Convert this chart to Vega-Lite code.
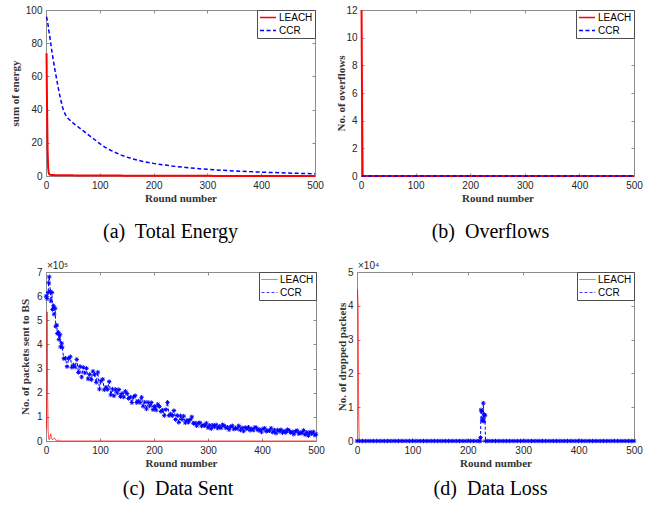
{
 "$schema": "https://vega.github.io/schema/vega-lite/v6.json",
 "padding": {"left": 9, "top": 5, "right": 5, "bottom": 4},
 "background": "white",
 "config": {
  "view": {"stroke": null},
  "axis": {"domainColor": "#8c8c8c", "tickColor": "#8c8c8c", "tickSize": -3, "labelFont": "Liberation Sans", "labelFontSize": 10, "labelColor": "#262626", "titleFont": "Liberation Serif", "titleFontSize": 11, "titleFontWeight": "bold", "titleColor": "#333333", "grid": false, "labelPadding": 7, "labelFlush": false, "labelOverlap": false, "labelBound": false, "domainWidth": 1, "tickWidth": 1},
  "legend": {"orient": "top-right", "offset": 0, "padding": 2, "strokeColor": "#4d4d4d", "fillColor": "white", "labelFont": "Liberation Sans", "labelFontSize": 10, "labelColor": "black", "symbolSize": 256, "symbolStrokeWidth": 1.5, "rowPadding": 2, "labelOffset": 2, "symbolType": "stroke", "clipHeight": 11},
  "title": {"font": "Liberation Serif", "fontSize": 20, "fontWeight": "normal", "color": "black", "orient": "bottom", "anchor": "middle", "frame": "group"}
 },
 "resolve": {"scale": {"color": "independent", "strokeDash": "independent"}, "legend": {"color": "independent", "strokeDash": "independent"}},
 "datasets": {
  "energy": [
   {"r":1,"s":"LEACH","v":74},{"r":2,"s":"LEACH","v":40},{"r":3,"s":"LEACH","v":15},{"r":4,"s":"LEACH","v":5},{"r":5,"s":"LEACH","v":2},{"r":6,"s":"LEACH","v":1.1},{"r":8,"s":"LEACH","v":0.7},{"r":12,"s":"LEACH","v":0.55},{"r":20,"s":"LEACH","v":0.5},{"r":50,"s":"LEACH","v":0.38},{"r":100,"s":"LEACH","v":0.28},{"r":200,"s":"LEACH","v":0.15},{"r":300,"s":"LEACH","v":0.08},{"r":400,"s":"LEACH","v":0.03},{"r":500,"s":"LEACH","v":0},
   {"r":1,"s":"CCR","v":96},{"r":3,"s":"CCR","v":93},{"r":5,"s":"CCR","v":88},{"r":8,"s":"CCR","v":82},{"r":10,"s":"CCR","v":77},{"r":13,"s":"CCR","v":71},{"r":16,"s":"CCR","v":65},{"r":20,"s":"CCR","v":58},{"r":24,"s":"CCR","v":51},{"r":28,"s":"CCR","v":45},{"r":32,"s":"CCR","v":40},{"r":36,"s":"CCR","v":37},{"r":40,"s":"CCR","v":35},{"r":50,"s":"CCR","v":32},{"r":60,"s":"CCR","v":29.5},{"r":70,"s":"CCR","v":27},{"r":80,"s":"CCR","v":24.5},{"r":90,"s":"CCR","v":22},{"r":100,"s":"CCR","v":19.5},{"r":110,"s":"CCR","v":17.3},{"r":120,"s":"CCR","v":15.5},{"r":130,"s":"CCR","v":14},{"r":140,"s":"CCR","v":12.6},{"r":150,"s":"CCR","v":11.4},{"r":160,"s":"CCR","v":10.4},{"r":170,"s":"CCR","v":9.6},{"r":180,"s":"CCR","v":8.8},{"r":200,"s":"CCR","v":7.6},{"r":220,"s":"CCR","v":6.6},{"r":240,"s":"CCR","v":5.8},{"r":260,"s":"CCR","v":5.1},{"r":280,"s":"CCR","v":4.5},{"r":300,"s":"CCR","v":4.0},{"r":330,"s":"CCR","v":3.4},{"r":360,"s":"CCR","v":2.9},{"r":400,"s":"CCR","v":2.3},{"r":450,"s":"CCR","v":1.8},{"r":500,"s":"CCR","v":1.3}
  ],
  "overflow": [
   {"r":1,"s":"LEACH","v":12},{"r":2,"s":"LEACH","v":5},{"r":3,"s":"LEACH","v":0},{"r":500,"s":"LEACH","v":0},
   {"r":1,"s":"CCR","v":0},{"r":500,"s":"CCR","v":0}
  ],
  "sent": [
   {"r":1,"s":"LEACH","v":0.5},{"r":2,"s":"LEACH","v":5.35},{"r":3,"s":"LEACH","v":1.85},{"r":4,"s":"LEACH","v":0.4},{"r":5,"s":"LEACH","v":0.1},{"r":6,"s":"LEACH","v":0.05},{"r":7,"s":"LEACH","v":0.1},{"r":8,"s":"LEACH","v":0.25},{"r":9,"s":"LEACH","v":0.3},{"r":10,"s":"LEACH","v":0.12},{"r":12,"s":"LEACH","v":0.05},{"r":14,"s":"LEACH","v":0.1},{"r":16,"s":"LEACH","v":0.12},{"r":18,"s":"LEACH","v":0.03},{"r":20,"s":"LEACH","v":0},{"r":22,"s":"LEACH","v":0.05},{"r":24,"s":"LEACH","v":0},{"r":500,"s":"LEACH","v":0},
   {"r":0,"s":"CCR","v":6.0},{"r":2,"s":"CCR","v":5.9},{"r":4,"s":"CCR","v":6.15},{"r":5,"s":"CCR","v":6.55},{"r":6,"s":"CCR","v":6.8},{"r":8,"s":"CCR","v":6.2},{"r":9,"s":"CCR","v":5.8},{"r":11,"s":"CCR","v":6.15},{"r":12,"s":"CCR","v":5.45},{"r":14,"s":"CCR","v":5.6},{"r":15,"s":"CCR","v":5.25},{"r":17,"s":"CCR","v":5.5},{"r":18,"s":"CCR","v":4.75},{"r":20,"s":"CCR","v":4.8},{"r":21,"s":"CCR","v":4.45},{"r":23,"s":"CCR","v":4.5},{"r":24,"s":"CCR","v":4.2},{"r":26,"s":"CCR","v":4.4},{"r":27,"s":"CCR","v":3.9},{"r":29,"s":"CCR","v":4.05},
   {"r":30,"s":"CCR","v":3.88},{"r":33,"s":"CCR","v":3.41},{"r":36,"s":"CCR","v":3.43},{"r":39,"s":"CCR","v":3.08},{"r":42,"s":"CCR","v":3.42},{"r":45,"s":"CCR","v":3.49},{"r":48,"s":"CCR","v":3.05},{"r":51,"s":"CCR","v":3.15},{"r":54,"s":"CCR","v":3.06},{"r":57,"s":"CCR","v":3.38},{"r":60,"s":"CCR","v":2.84},{"r":63,"s":"CCR","v":3.09},{"r":66,"s":"CCR","v":2.65},{"r":69,"s":"CCR","v":3.05},{"r":72,"s":"CCR","v":2.82},{"r":75,"s":"CCR","v":3.01},{"r":78,"s":"CCR","v":2.57},{"r":81,"s":"CCR","v":2.76},{"r":84,"s":"CCR","v":2.54},{"r":87,"s":"CCR","v":2.89},{"r":90,"s":"CCR","v":2.76},{"r":93,"s":"CCR","v":2.43},{"r":96,"s":"CCR","v":2.85},{"r":99,"s":"CCR","v":2.15},{"r":102,"s":"CCR","v":2.49},{"r":105,"s":"CCR","v":2.56},{"r":108,"s":"CCR","v":2.12},{"r":111,"s":"CCR","v":2.23},{"r":114,"s":"CCR","v":2.14},{"r":117,"s":"CCR","v":2.46},{"r":120,"s":"CCR","v":1.91},
   {"r":123,"s":"CCR","v":2.15},{"r":126,"s":"CCR","v":1.87},{"r":129,"s":"CCR","v":2.14},{"r":132,"s":"CCR","v":1.99},{"r":135,"s":"CCR","v":2.13},{"r":138,"s":"CCR","v":1.84},{"r":141,"s":"CCR","v":1.97},{"r":144,"s":"CCR","v":1.82},{"r":147,"s":"CCR","v":2.06},{"r":150,"s":"CCR","v":1.97},{"r":153,"s":"CCR","v":1.76},{"r":156,"s":"CCR","v":1.82},{"r":159,"s":"CCR","v":1.59},{"r":162,"s":"CCR","v":1.82},{"r":165,"s":"CCR","v":1.88},{"r":168,"s":"CCR","v":1.59},{"r":171,"s":"CCR","v":1.66},{"r":174,"s":"CCR","v":1.59},{"r":177,"s":"CCR","v":1.81},{"r":180,"s":"CCR","v":1.44},{"r":183,"s":"CCR","v":1.61},{"r":186,"s":"CCR","v":1.33},{"r":189,"s":"CCR","v":1.6},{"r":192,"s":"CCR","v":1.45},{"r":195,"s":"CCR","v":1.59},{"r":198,"s":"CCR","v":1.3},{"r":201,"s":"CCR","v":1.43},{"r":204,"s":"CCR","v":1.28},{"r":207,"s":"CCR","v":1.52},{"r":210,"s":"CCR","v":1.43},{"r":213,"s":"CCR","v":1.22},{"r":216,"s":"CCR","v":1.28},{"r":219,"s":"CCR","v":1.05},{"r":222,"s":"CCR","v":1.3},{"r":225,"s":"CCR","v":1.6},{"r":228,"s":"CCR","v":1.05},{"r":231,"s":"CCR","v":1.12},{"r":234,"s":"CCR","v":1.05},{"r":237,"s":"CCR","v":1.26},{"r":240,"s":"CCR","v":0.89},{"r":243,"s":"CCR","v":1.06},{"r":246,"s":"CCR","v":0.77},{"r":249,"s":"CCR","v":1.04},{"r":252,"s":"CCR","v":0.89},{"r":255,"s":"CCR","v":1.03},{"r":258,"s":"CCR","v":0.75},
   {"r":261,"s":"CCR","v":0.86},{"r":264,"s":"CCR","v":0.78},{"r":267,"s":"CCR","v":0.89},{"r":270,"s":"CCR","v":1.0},{"r":273,"s":"CCR","v":0.73},{"r":276,"s":"CCR","v":0.75},{"r":279,"s":"CCR","v":0.63},{"r":282,"s":"CCR","v":0.74},{"r":285,"s":"CCR","v":0.76},{"r":288,"s":"CCR","v":0.62},{"r":291,"s":"CCR","v":0.66},{"r":294,"s":"CCR","v":0.63},{"r":297,"s":"CCR","v":0.74},{"r":300,"s":"CCR","v":0.55},{"r":303,"s":"CCR","v":0.65},{"r":306,"s":"CCR","v":0.51},{"r":309,"s":"CCR","v":0.66},{"r":312,"s":"CCR","v":0.59},{"r":315,"s":"CCR","v":0.67},{"r":318,"s":"CCR","v":0.53},{"r":321,"s":"CCR","v":0.61},{"r":324,"s":"CCR","v":0.54},{"r":327,"s":"CCR","v":0.67},{"r":330,"s":"CCR","v":0.63},{"r":333,"s":"CCR","v":0.54},{"r":336,"s":"CCR","v":0.57},{"r":339,"s":"CCR","v":0.47},{"r":342,"s":"CCR","v":0.59},{"r":345,"s":"CCR","v":0.63},{"r":348,"s":"CCR","v":0.49},{"r":351,"s":"CCR","v":0.54},{"r":354,"s":"CCR","v":0.51},{"r":357,"s":"CCR","v":0.63},{"r":360,"s":"CCR","v":0.45},{"r":363,"s":"CCR","v":0.55},{"r":366,"s":"CCR","v":0.41},{"r":369,"s":"CCR","v":0.56},{"r":372,"s":"CCR","v":0.5},{"r":375,"s":"CCR","v":0.57},{"r":378,"s":"CCR","v":0.44},{"r":381,"s":"CCR","v":0.51},{"r":384,"s":"CCR","v":0.45},{"r":387,"s":"CCR","v":0.57},{"r":390,"s":"CCR","v":0.54},{"r":393,"s":"CCR","v":0.44},{"r":396,"s":"CCR","v":0.48},{"r":399,"s":"CCR","v":0.37},{"r":402,"s":"CCR","v":0.5},{"r":405,"s":"CCR","v":0.53},{"r":408,"s":"CCR","v":0.4},{"r":411,"s":"CCR","v":0.44},{"r":414,"s":"CCR","v":0.42},{"r":417,"s":"CCR","v":0.53},{"r":420,"s":"CCR","v":0.36},{"r":423,"s":"CCR","v":0.45},{"r":426,"s":"CCR","v":0.32},{"r":429,"s":"CCR","v":0.46},{"r":432,"s":"CCR","v":0.4},{"r":435,"s":"CCR","v":0.47},{"r":438,"s":"CCR","v":0.34},{"r":441,"s":"CCR","v":0.41},{"r":444,"s":"CCR","v":0.35},{"r":447,"s":"CCR","v":0.47},{"r":450,"s":"CCR","v":0.44},{"r":453,"s":"CCR","v":0.35},{"r":456,"s":"CCR","v":0.38},{"r":459,"s":"CCR","v":0.28},{"r":462,"s":"CCR","v":0.4},{"r":465,"s":"CCR","v":0.44},{"r":468,"s":"CCR","v":0.3},{"r":471,"s":"CCR","v":0.35},{"r":474,"s":"CCR","v":0.32},{"r":477,"s":"CCR","v":0.44},{"r":480,"s":"CCR","v":0.26},{"r":483,"s":"CCR","v":0.36},{"r":486,"s":"CCR","v":0.22},{"r":489,"s":"CCR","v":0.37},{"r":492,"s":"CCR","v":0.3},{"r":495,"s":"CCR","v":0.38},{"r":498,"s":"CCR","v":0.24},{"r":500,"s":"CCR","v":0.28}
  ],
  "loss": [
   {"r":1,"s":"LEACH","v":4.5},{"r":2,"s":"LEACH","v":4.0},{"r":3,"s":"LEACH","v":0.8},{"r":4,"s":"LEACH","v":0},{"r":500,"s":"LEACH","v":0},
   {"r":0,"s":"CCR","v":0},{"r":5,"s":"CCR","v":0},{"r":10,"s":"CCR","v":0},{"r":15,"s":"CCR","v":0},{"r":20,"s":"CCR","v":0},{"r":25,"s":"CCR","v":0},{"r":30,"s":"CCR","v":0},{"r":35,"s":"CCR","v":0},{"r":40,"s":"CCR","v":0},{"r":45,"s":"CCR","v":0},{"r":50,"s":"CCR","v":0},{"r":55,"s":"CCR","v":0},{"r":60,"s":"CCR","v":0},{"r":65,"s":"CCR","v":0},{"r":70,"s":"CCR","v":0},{"r":75,"s":"CCR","v":0},{"r":80,"s":"CCR","v":0},{"r":85,"s":"CCR","v":0},{"r":90,"s":"CCR","v":0},{"r":95,"s":"CCR","v":0},{"r":100,"s":"CCR","v":0},{"r":105,"s":"CCR","v":0},{"r":110,"s":"CCR","v":0},{"r":115,"s":"CCR","v":0},{"r":120,"s":"CCR","v":0},{"r":125,"s":"CCR","v":0},{"r":130,"s":"CCR","v":0},{"r":135,"s":"CCR","v":0},{"r":140,"s":"CCR","v":0},{"r":145,"s":"CCR","v":0},{"r":150,"s":"CCR","v":0},{"r":155,"s":"CCR","v":0},{"r":160,"s":"CCR","v":0},{"r":165,"s":"CCR","v":0},{"r":170,"s":"CCR","v":0},{"r":175,"s":"CCR","v":0},{"r":180,"s":"CCR","v":0},{"r":185,"s":"CCR","v":0},{"r":190,"s":"CCR","v":0},{"r":195,"s":"CCR","v":0},{"r":200,"s":"CCR","v":0},{"r":205,"s":"CCR","v":0},{"r":210,"s":"CCR","v":0},{"r":215,"s":"CCR","v":0},{"r":220,"s":"CCR","v":0},{"r":222,"s":"CCR","v":0},{"r":223,"s":"CCR","v":0.1},{"r":224,"s":"CCR","v":0.92},{"r":225,"s":"CCR","v":0.88},{"r":226,"s":"CCR","v":0.6},{"r":227,"s":"CCR","v":0.65},{"r":228,"s":"CCR","v":1.12},{"r":229,"s":"CCR","v":0.58},{"r":230,"s":"CCR","v":0.78},{"r":231,"s":"CCR","v":0.76},{"r":232,"s":"CCR","v":0},{"r":235,"s":"CCR","v":0},{"r":240,"s":"CCR","v":0},{"r":245,"s":"CCR","v":0},{"r":250,"s":"CCR","v":0},{"r":255,"s":"CCR","v":0},{"r":260,"s":"CCR","v":0},{"r":265,"s":"CCR","v":0},{"r":270,"s":"CCR","v":0},{"r":275,"s":"CCR","v":0},{"r":280,"s":"CCR","v":0},{"r":285,"s":"CCR","v":0},{"r":290,"s":"CCR","v":0},{"r":295,"s":"CCR","v":0},{"r":300,"s":"CCR","v":0},{"r":305,"s":"CCR","v":0},{"r":310,"s":"CCR","v":0},{"r":315,"s":"CCR","v":0},{"r":320,"s":"CCR","v":0},{"r":325,"s":"CCR","v":0},{"r":330,"s":"CCR","v":0},{"r":335,"s":"CCR","v":0},{"r":340,"s":"CCR","v":0},{"r":345,"s":"CCR","v":0},{"r":350,"s":"CCR","v":0},{"r":355,"s":"CCR","v":0},{"r":360,"s":"CCR","v":0},{"r":365,"s":"CCR","v":0},{"r":370,"s":"CCR","v":0},{"r":375,"s":"CCR","v":0},{"r":380,"s":"CCR","v":0},{"r":385,"s":"CCR","v":0},{"r":390,"s":"CCR","v":0},{"r":395,"s":"CCR","v":0},{"r":400,"s":"CCR","v":0},{"r":405,"s":"CCR","v":0},{"r":410,"s":"CCR","v":0},{"r":415,"s":"CCR","v":0},{"r":420,"s":"CCR","v":0},{"r":425,"s":"CCR","v":0},{"r":430,"s":"CCR","v":0},{"r":435,"s":"CCR","v":0},{"r":440,"s":"CCR","v":0},{"r":445,"s":"CCR","v":0},{"r":450,"s":"CCR","v":0},{"r":455,"s":"CCR","v":0},{"r":460,"s":"CCR","v":0},{"r":465,"s":"CCR","v":0},{"r":470,"s":"CCR","v":0},{"r":475,"s":"CCR","v":0},{"r":480,"s":"CCR","v":0},{"r":485,"s":"CCR","v":0},{"r":490,"s":"CCR","v":0},{"r":495,"s":"CCR","v":0},{"r":500,"s":"CCR","v":0}
  ]
 },
 "spacing": 19,
 "vconcat": [
  {"spacing": 11,
   "resolve": {"scale": {"color": "independent", "strokeDash": "independent"}, "legend": {"color": "independent", "strokeDash": "independent"}},
   "hconcat": [
   {"width": 269, "height": 166, "data": {"name": "energy"},
    "title": {"text": "(a)\u00a0 Total Energy", "dx": -10, "offset": 19},
    "resolve": {"axis": {"x": "independent", "y": "independent"}},
    "layer": [
     {"transform": [{"filter": "datum.s === 'LEACH'"}],
      "mark": {"type": "line", "strokeWidth": 2},
      "encoding": {
       "x": {"field": "r", "type": "quantitative", "scale": {"domain": [0, 500], "nice": false}, "axis": {"orient": "bottom", "values": [0,100,200,300,400,500], "title": "Round number", "titlePadding": 2}},
       "y": {"field": "v", "type": "quantitative", "scale": {"domain": [0, 100], "nice": false}, "axis": {"orient": "left", "values": [0,20,40,60,80,100], "title": "sum of energy", "minExtent": 20, "maxExtent": 20, "titlePadding": 6}},
       "color": {"field": "s", "type": "nominal", "scale": {"domain": ["LEACH", "CCR"], "range": ["#ff0000", "#0000ff"]}, "legend": {"title": null}},
       "strokeDash": {"field": "s", "type": "nominal", "scale": {"domain": ["LEACH", "CCR"], "range": [[1, 0], [4, 2.5]]}, "legend": {"title": null}}
      }},
     {"transform": [{"filter": "datum.s === 'CCR'"}],
      "mark": {"type": "line", "strokeWidth": 1.5},
      "encoding": {
       "x": {"field": "r", "type": "quantitative", "scale": {"domain": [0, 500], "nice": false}, "axis": {"orient": "top", "values": [0,100,200,300,400,500], "labels": false, "title": null, "minExtent": 0, "maxExtent": 0}},
       "y": {"field": "v", "type": "quantitative", "scale": {"domain": [0, 100], "nice": false}, "axis": {"orient": "right", "values": [0,20,40,60,80,100], "labels": false, "title": null, "minExtent": 0, "maxExtent": 0}},
       "color": {"field": "s", "type": "nominal", "scale": {"domain": ["LEACH", "CCR"], "range": ["#ff0000", "#0000ff"]}, "legend": {"title": null}},
       "strokeDash": {"field": "s", "type": "nominal", "scale": {"domain": ["LEACH", "CCR"], "range": [[1, 0], [4, 2.5]]}, "legend": {"title": null}}
      }}
    ]},
   {"width": 273, "height": 166, "data": {"name": "overflow"},
    "title": {"text": "(b)\u00a0 Overflows", "dx": -7, "offset": 19},
    "resolve": {"axis": {"x": "independent", "y": "independent"}},
    "layer": [
     {"transform": [{"filter": "datum.s === 'LEACH'"}],
      "mark": {"type": "line", "strokeWidth": 2},
      "encoding": {
       "x": {"field": "r", "type": "quantitative", "scale": {"domain": [0, 500], "nice": false}, "axis": {"orient": "bottom", "values": [0,100,200,300,400,500], "title": "Round number", "titlePadding": 2}},
       "y": {"field": "v", "type": "quantitative", "scale": {"domain": [0, 12], "nice": false}, "axis": {"orient": "left", "values": [0,2,4,6,8,10,12], "title": "No. of overflows", "minExtent": 14, "maxExtent": 14, "titlePadding": 1}},
       "color": {"field": "s", "type": "nominal", "scale": {"domain": ["LEACH", "CCR"], "range": ["#ff0000", "#0000ff"]}, "legend": {"title": null}},
       "strokeDash": {"field": "s", "type": "nominal", "scale": {"domain": ["LEACH", "CCR"], "range": [[1, 0], [4, 2.5]]}, "legend": {"title": null}}
      }},
     {"transform": [{"filter": "datum.s === 'CCR'"}],
      "mark": {"type": "line", "strokeWidth": 1.5},
      "encoding": {
       "x": {"field": "r", "type": "quantitative", "scale": {"domain": [0, 500], "nice": false}, "axis": {"orient": "top", "values": [0,100,200,300,400,500], "labels": false, "title": null, "minExtent": 0, "maxExtent": 0}},
       "y": {"field": "v", "type": "quantitative", "scale": {"domain": [0, 12], "nice": false}, "axis": {"orient": "right", "values": [0,2,4,6,8,10,12], "labels": false, "title": null, "minExtent": 0, "maxExtent": 0}},
       "color": {"field": "s", "type": "nominal", "scale": {"domain": ["LEACH", "CCR"], "range": ["#ff0000", "#0000ff"]}, "legend": {"title": null}},
       "strokeDash": {"field": "s", "type": "nominal", "scale": {"domain": ["LEACH", "CCR"], "range": [[1, 0], [4, 2.5]]}, "legend": {"title": null}}
      }}
    ]}
  ]},
  {"spacing": 11,
   "resolve": {"scale": {"color": "independent", "strokeDash": "independent"}, "legend": {"color": "independent", "strokeDash": "independent"}},
   "hconcat": [
   {"width": 270, "height": 169, "data": {"name": "sent"},
    "title": {"text": "(c)\u00a0 Data Sent", "dx": -3, "offset": 11},
    "resolve": {"axis": {"x": "independent", "y": "independent"}},
    "layer": [
     {"transform": [{"filter": "datum.s === 'LEACH'"}],
      "mark": {"type": "line", "strokeWidth": 1, "opacity": 0.75},
      "encoding": {
       "x": {"field": "r", "type": "quantitative", "scale": {"domain": [0, 500], "nice": false}, "axis": {"orient": "bottom", "values": [0,100,200,300,400,500], "title": "Round number", "titlePadding": 2}},
       "y": {"field": "v", "type": "quantitative", "scale": {"domain": [0, 7], "nice": false}, "axis": {"orient": "left", "values": [0,1,2,3,4,5,6,7], "title": "No. of packets sent to BS", "minExtent": 10, "maxExtent": 10, "titlePadding": 6}},
       "color": {"field": "s", "type": "nominal", "scale": {"domain": ["LEACH", "CCR"], "range": ["#ff0000", "#0000ff"]}, "legend": {"title": null, "symbolStrokeWidth": 1}},
       "strokeDash": {"field": "s", "type": "nominal", "scale": {"domain": ["LEACH", "CCR"], "range": [[1, 0], [3, 2]]}, "legend": {"title": null, "symbolStrokeWidth": 1}}
      }},
     {"transform": [{"filter": "datum.s === 'CCR'"}],
      "mark": {"type": "line", "strokeWidth": 1},
      "encoding": {
       "x": {"field": "r", "type": "quantitative", "scale": {"domain": [0, 500], "nice": false}, "axis": {"orient": "top", "values": [0,100,200,300,400,500], "labels": false, "title": null, "minExtent": 0, "maxExtent": 0}},
       "y": {"field": "v", "type": "quantitative", "scale": {"domain": [0, 7], "nice": false}, "axis": {"orient": "right", "values": [0,1,2,3,4,5,6,7], "labels": false, "title": null, "minExtent": 0, "maxExtent": 0}},
       "color": {"field": "s", "type": "nominal", "scale": {"domain": ["LEACH", "CCR"], "range": ["#ff0000", "#0000ff"]}, "legend": {"title": null, "symbolStrokeWidth": 1}},
       "strokeDash": {"field": "s", "type": "nominal", "scale": {"domain": ["LEACH", "CCR"], "range": [[1, 0], [3, 2]]}, "legend": {"title": null, "symbolStrokeWidth": 1}}
      }},
     {"transform": [{"filter": "datum.s === 'CCR'"}],
      "mark": {"type": "point", "shape": "M-1,0H1M0,-1V1M-0.7,-0.7L0.7,0.7M-0.7,0.7L0.7,-0.7", "filled": false, "size": 20, "strokeWidth": 1, "color": "#0000ff", "opacity": 1},
      "encoding": {
       "x": {"field": "r", "type": "quantitative", "scale": {"domain": [0, 500], "nice": false}, "axis": null},
       "y": {"field": "v", "type": "quantitative", "scale": {"domain": [0, 7], "nice": false}, "axis": null}
      }},
     {"data": {"values": [{"label": "×10⁵"}]},
      "mark": {"type": "text", "align": "left", "baseline": "bottom", "dy": -1, "dx": 1, "font": "Liberation Sans", "fontSize": 10, "color": "#262626"},
      "encoding": {
       "x": {"datum": 0, "type": "quantitative", "scale": {"domain": [0, 500], "nice": false}, "axis": null},
       "y": {"datum": 7, "type": "quantitative", "scale": {"domain": [0, 7], "nice": false}, "axis": null},
       "text": {"field": "label"}
      }}
    ]},
   {"width": 277, "height": 169, "data": {"name": "loss"},
    "title": {"text": "(d)\u00a0 Data Loss", "dx": -5, "offset": 11},
    "resolve": {"axis": {"x": "independent", "y": "independent"}},
    "layer": [
     {"transform": [{"filter": "datum.s === 'LEACH'"}],
      "mark": {"type": "line", "strokeWidth": 1, "opacity": 0.75},
      "encoding": {
       "x": {"field": "r", "type": "quantitative", "scale": {"domain": [0, 500], "nice": false}, "axis": {"orient": "bottom", "values": [0,100,200,300,400,500], "title": "Round number", "titlePadding": 2}},
       "y": {"field": "v", "type": "quantitative", "scale": {"domain": [0, 5], "nice": false}, "axis": {"orient": "left", "values": [0,1,2,3,4,5], "title": "No. of dropped packets", "minExtent": 10, "maxExtent": 10, "titlePadding": 0}},
       "color": {"field": "s", "type": "nominal", "scale": {"domain": ["LEACH", "CCR"], "range": ["#ff0000", "#0000ff"]}, "legend": {"title": null, "symbolStrokeWidth": 1}},
       "strokeDash": {"field": "s", "type": "nominal", "scale": {"domain": ["LEACH", "CCR"], "range": [[1, 0], [3, 2]]}, "legend": {"title": null, "symbolStrokeWidth": 1}}
      }},
     {"transform": [{"filter": "datum.s === 'CCR'"}],
      "mark": {"type": "line", "strokeWidth": 1},
      "encoding": {
       "x": {"field": "r", "type": "quantitative", "scale": {"domain": [0, 500], "nice": false}, "axis": {"orient": "top", "values": [0,100,200,300,400,500], "labels": false, "title": null, "minExtent": 0, "maxExtent": 0}},
       "y": {"field": "v", "type": "quantitative", "scale": {"domain": [0, 5], "nice": false}, "axis": {"orient": "right", "values": [0,1,2,3,4,5], "labels": false, "title": null, "minExtent": 0, "maxExtent": 0}},
       "color": {"field": "s", "type": "nominal", "scale": {"domain": ["LEACH", "CCR"], "range": ["#ff0000", "#0000ff"]}, "legend": {"title": null, "symbolStrokeWidth": 1}},
       "strokeDash": {"field": "s", "type": "nominal", "scale": {"domain": ["LEACH", "CCR"], "range": [[1, 0], [3, 2]]}, "legend": {"title": null, "symbolStrokeWidth": 1}}
      }},
     {"transform": [{"filter": "datum.s === 'CCR'"}],
      "mark": {"type": "point", "shape": "M-1,0H1M0,-1V1M-0.7,-0.7L0.7,0.7M-0.7,0.7L0.7,-0.7", "filled": false, "size": 20, "strokeWidth": 1, "color": "#0000ff", "opacity": 1},
      "encoding": {
       "x": {"field": "r", "type": "quantitative", "scale": {"domain": [0, 500], "nice": false}, "axis": null},
       "y": {"field": "v", "type": "quantitative", "scale": {"domain": [0, 5], "nice": false}, "axis": null}
      }},
     {"data": {"values": [{"label": "×10⁴"}]},
      "mark": {"type": "text", "align": "left", "baseline": "bottom", "dy": -1, "dx": 1, "font": "Liberation Sans", "fontSize": 10, "color": "#262626"},
      "encoding": {
       "x": {"datum": 0, "type": "quantitative", "scale": {"domain": [0, 500], "nice": false}, "axis": null},
       "y": {"datum": 5, "type": "quantitative", "scale": {"domain": [0, 5], "nice": false}, "axis": null},
       "text": {"field": "label"}
      }}
    ]}
  ]}
 ]
}
